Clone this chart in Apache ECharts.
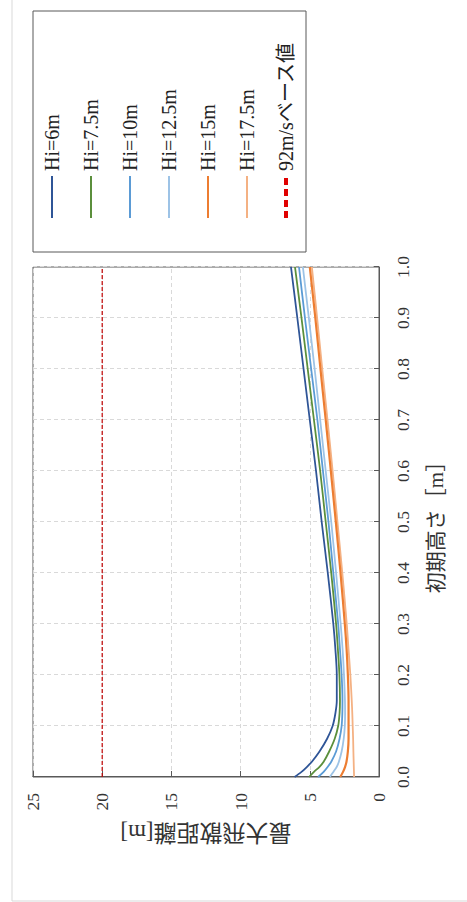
<!DOCTYPE html>
<html><head><meta charset="utf-8">
<script src="https://cdn.jsdelivr.net/npm/echarts@6/dist/echarts.min.js"></script>
<style>
html,body{margin:0;padding:0;width:467px;height:902px;overflow:hidden;background:#fff}
#chart{position:absolute;left:0;top:0;width:902px;height:467px;transform-origin:0 0;transform:translate(0,902px) rotate(-90deg);}
</style></head><body><div id="chart"></div>
<script>
// 初期高さ [m]
const initHeights = [0,0.01,0.02,0.03,0.05,0.075,0.1,0.125,0.15,0.2,0.25,0.3,0.4,0.5,0.6,0.7,0.8,0.9,1.0];
const seriesNames = ['Hi=6m','Hi=7.5m','Hi=10m','Hi=12.5m','Hi=15m','Hi=17.5m'];
const hi6   = [6.1,5.6,5.2,4.85,4.3,3.75,3.35,3.15,3.05,3.05,3.15,3.3,3.7,4.14,4.55,5.0,5.45,5.9,6.36];
const hi7_5 = [5.05,4.7,4.3,4.0,3.6,3.2,2.95,2.85,2.82,2.86,2.97,3.1,3.45,3.85,4.25,4.7,5.15,5.6,6.07];
const hi10  = [4.4,4.0,3.7,3.45,3.1,2.85,2.7,2.65,2.64,2.7,2.82,2.95,3.3,3.65,4.05,4.45,4.9,5.35,5.78];
const hi12_5= [3.55,3.3,3.05,2.9,2.7,2.55,2.47,2.45,2.46,2.53,2.63,2.77,3.1,3.45,3.85,4.25,4.65,5.07,5.5];
const hi15  = [2.8,2.6,2.45,2.35,2.25,2.2,2.2,2.2,2.2,2.25,2.34,2.47,2.78,3.12,3.48,3.85,4.23,4.6,5.0];
const hi17_5= [1.8,1.81,1.82,1.83,1.85,1.87,1.9,1.93,1.97,2.07,2.2,2.33,2.65,3.0,3.35,3.72,4.1,4.47,4.85];
const baseName = '92m/sベース値';
const baseX = [0, 1];
const baseValue = [20, 20];
const xTicks = [0,0.1,0.2,0.3,0.4,0.5,0.6,0.7,0.8,0.9,1.0];
const yTicks = [0,5,10,15,20,25];

const allValues = [hi6, hi7_5, hi10, hi12_5, hi15, hi17_5];
const colors = ['#2F5597','#5B8F3C','#5B9BD5','#9DC3E6','#ED7D31','#F4B183'];
const widths = [1.8,1.8,1.8,1.8,2.2,1.8];

const FONT = "'Liberation Serif','Noto Sans CJK JP',serif";
const chart = echarts.init(document.getElementById('chart'), null, {width:902, height:467, renderer:'svg'});

const series = allValues.map((vals, i) => ({
  name: seriesNames[i], type: 'line', symbol: 'none', showSymbol: false, smooth: 0.3,
  data: initHeights.map((x, j) => [x, vals[j]]),
  lineStyle: {color: colors[i], width: widths[i]}, itemStyle: {color: colors[i]},
  z: 10 - i
}));
series.push({
  name: baseName, type: 'line', symbol: 'none', showSymbol: false,
  data: baseX.map((x, j) => [x, baseValue[j]]),
  lineStyle: {color: '#C00000', width: 1.2, type: [4, 2]}, itemStyle: {color: '#E00000'}
});

chart.setOption({
  animation: false,
  backgroundColor: '#fff',
  grid: {left: 125, top: 33, right: 267, bottom: 88, show: true, borderColor: '#595959', borderWidth: 1, backgroundColor: 'transparent'},
  xAxis: {
    type: 'value', min: xTicks[0], max: xTicks[xTicks.length-1], interval: 0.1,
    name: '初期高さ［m］', nameLocation: 'middle', nameGap: 46,
    nameTextStyle: {fontFamily: FONT, fontSize: 21, color: '#333'},
    axisLine: {show: true, lineStyle: {color: '#595959'}},
    axisTick: {show: true, inside: true, length: 5, lineStyle: {color: '#595959'}},
    axisLabel: {margin: 15, fontFamily: FONT, fontSize: 17.5, color: '#333', formatter: v => v.toFixed(1)},
    splitLine: {show: true, lineStyle: {color: '#d9d9d9', type: [4, 3]}}
  },
  yAxis: {
    type: 'value', min: yTicks[0], max: yTicks[yTicks.length-1], interval: 5,
    name: '最大飛散距離[m]', nameLocation: 'middle', nameGap: 44,
    nameTextStyle: {fontFamily: FONT, fontSize: 23, color: '#333'},
    axisLine: {show: true, lineStyle: {color: '#595959'}},
    axisTick: {show: true, inside: true, length: 6, lineStyle: {color: '#595959'}},
    axisLabel: {margin: 16, fontFamily: FONT, fontSize: 17.5, color: '#333'},
    splitLine: {show: true, lineStyle: {color: '#d9d9d9', type: [4, 3]}}
  },
  legend: {
    orient: 'vertical', left: 682, top: 42, padding: 0,
    itemWidth: 42, itemHeight: 14, itemGap: 19,
    itemStyle: {opacity: 0},
    textStyle: {fontFamily: FONT, fontSize: 20, lineHeight: 20, color: '#222'},
    data: seriesNames.concat([{name: baseName, lineStyle: {width: 4, type: [7, 4], color: '#E00000'}}])
  },
  graphic: [
    {type: 'rect', shape: {x: 650, y: 33, width: 241, height: 273}, style: {fill: 'none', stroke: '#595959', lineWidth: 1}, silent: true},
    {type: 'line', shape: {x1: 1, y1: 12, x2: 902, y2: 12}, style: {stroke: '#d9d9d9', lineWidth: 1}, silent: true},
    {type: 'line', shape: {x1: 1, y1: 12, x2: 1, y2: 467}, style: {stroke: '#d9d9d9', lineWidth: 1}, silent: true}
  ],
  series: series
});
</script></body></html>
